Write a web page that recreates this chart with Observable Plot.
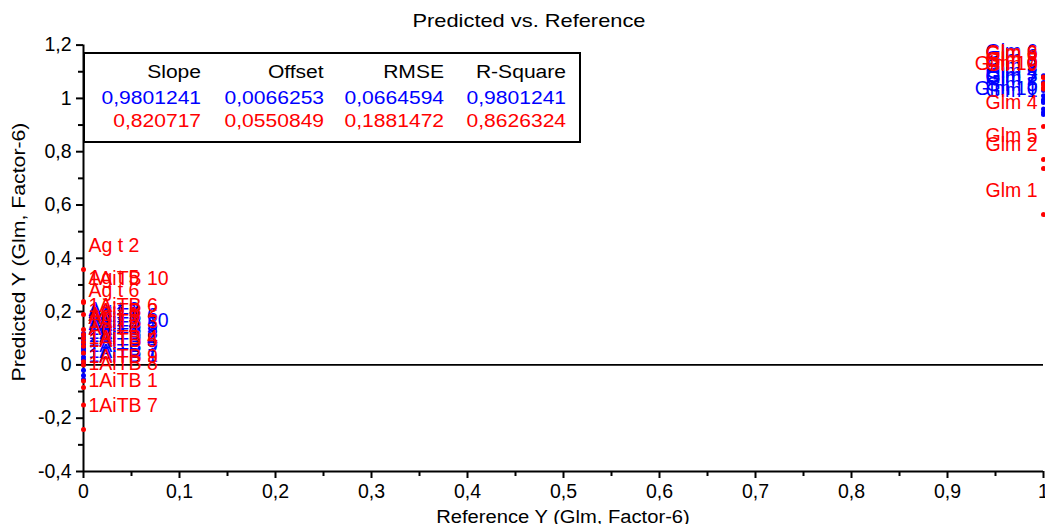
<!DOCTYPE html>
<html>
<head>
<meta charset="utf-8">
<script src="https://cdn.jsdelivr.net/npm/d3@7"></script>
<script src="https://cdn.jsdelivr.net/npm/@observablehq/plot@0.6"></script>
<style>
  html, body { margin: 0; padding: 0; background: #fff; overflow: hidden; }
  #wrap { position: relative; width: 1045px; height: 524px; font-family: Arial, "Liberation Sans", sans-serif; }
  #wrap svg { position: absolute; left: 0; top: 0; }
  .ov { position: absolute; white-space: nowrap; color: #000; }
  .cell { position: absolute; width: 300px; text-align: right; font-size: 18px; line-height: 18px; white-space: nowrap; }
  .cell span { display: inline-block; transform: scaleX(1.17); transform-origin: right center; }
</style>
</head>
<body>
<div id="wrap"></div>
<script>
// ---------- data ----------
const titleText = "Predicted vs. Reference";
const xTitle = "Reference Y (Glm, Factor-6)";
const yTitle = "Predicted Y (Glm, Factor-6)";

const xTicks = [0, 0.1, 0.2, 0.3, 0.4, 0.5, 0.6, 0.7, 0.8, 0.9, 1];
const xMinorTicks = [0.05, 0.15, 0.25, 0.35, 0.45, 0.55, 0.65, 0.75, 0.85, 0.95];
const yTicks = [-0.4, -0.2, 0, 0.2, 0.4, 0.6, 0.8, 1, 1.2];
const yMinorTicks = [-0.3, -0.1, 0.1, 0.3, 0.5, 0.7, 0.9, 1.1];

// calibration (blue)
const blueNames = ["1AiTB 1","1AiTB 2","1AiTB 3","1AiTB 4","1AiTB 5","1AiTB 6","1AiTB 7","1AiTB 8","1AiTB 9","1AiTB 10",
                   "Ag t 1","Ag t 2","Ag t 3","Ag t 4","Ag t 5","Ag t 6",
                   "Glm 1","Glm 2","Glm 3","Glm 4","Glm 5","Glm 6","Glm 7","Glm 8","Glm 9","Glm 10"];
const blueRef  = [0,0,0,0,0,0,0,0,0,0, 0,0,0,0,0,0, 1,1,1,1,1,1,1,1,1,1];
const bluePred = [-0.055, 0.02, 0.045, 0.005, 0.06, 0.095, -0.04, 0.03, -0.02, 0.077,
                  0.11, 0.118, 0.085, 0.065, 0.1, 0.05,
                  0.94, 0.985, 0.995, 1.01, 0.96, 1.085, 0.99, 1.06, 1.03, 0.948];

// validation (red)
const redNames = ["1AiTB 1","1AiTB 2","1AiTB 3","1AiTB 4","1AiTB 5","1AiTB 6","1AiTB 7","1AiTB 8","1AiTB 9","1AiTB 10",
                  "Ag t 1","Ag t 2","Ag t 3","Ag t 4","Ag t 5","Ag t 6",
                  "Glm 1","Glm 2","Glm 3","Glm 4","Glm 5","Glm 6","Glm 7","Glm 8","Glm 9","Glm 10"];
const redRef  = [0,0,0,0,0,0,0,0,0,0, 0,0,0,0,0,0, 1,1,1,1,1,1,1,1,1,1];
const redPred = [-0.15, 0.114, 0.07, 0.012, 0.0, 0.133, -0.242, -0.085, -0.06, 0.234,
                 0.1, 0.358, 0.085, 0.045, 0.238, 0.189,
                 0.564, 0.737, 1.055, 0.895, 0.771, 1.08, 1.05, 1.078, 1.035, 1.04];

// statistics box
const statHeaders = ["Slope", "Offset", "RMSE", "R-Square"];
const blueStats = ["0,9801241", "0,0066253", "0,0664594", "0,9801241"];
const redStats  = ["0,820717", "0,0550849", "0,1881472", "0,8626324"];

// ---------- build ----------
const blue = blueNames.map((name, i) => ({name, ref: blueRef[i], pred: bluePred[i]}));
const red  = redNames.map((name, i) => ({name, ref: redRef[i], pred: redPred[i]}));
const fmt = d => String(d).replace(".", ",");

const BLUE = "#0000ff", RED = "#ff0000";
const labelFont = 19.5;

const labelMarks = (data, color) => [
  Plot.text(data, {filter: d => d.ref < 0.5, x: "ref", y: "pred", text: "name", textAnchor: "start",
                   dx: 5, dy: -24, fill: color, fontSize: labelFont}),
  Plot.text(data, {filter: d => d.ref >= 0.5, x: "ref", y: "pred", text: "name", textAnchor: "end",
                   dx: -6, dy: -24, fill: color, fontSize: labelFont})
];

const chart = Plot.plot({
  width: 1045,
  height: 524,
  marginLeft: 83,
  marginRight: 2,
  marginTop: 44.6,
  marginBottom: 53,
  x: {domain: [0, 1], label: null},
  y: {domain: [-0.4, 1.2], label: null},
  style: {fontFamily: "Arial, 'Liberation Sans', sans-serif", fontSize: "19.5px", color: "#000", background: "transparent", overflow: "visible"},
  marks: [
    Plot.ruleY([0], {stroke: "#000", strokeWidth: 1.8}),
    Plot.axisX(xTicks, {tickSize: 7, tickPadding: 6, tickFormat: fmt, strokeWidth: 2, fontSize: 19.5, label: null}),
    Plot.axisX(xMinorTicks, {tickSize: 5, tickFormat: () => "", strokeWidth: 2, label: null}),
    Plot.axisY(yTicks, {tickSize: 7, tickPadding: 5, tickFormat: fmt, strokeWidth: 2, fontSize: 19.5, label: null}),
    Plot.axisY(yMinorTicks, {tickSize: 5, tickFormat: () => "", strokeWidth: 2, label: null}),
    Plot.ruleY([-0.4], {stroke: "#000", strokeWidth: 2}),
    Plot.ruleX([0], {stroke: "#000", strokeWidth: 2}),
    Plot.dot(blue, {x: "ref", y: "pred", r: 2.5, fill: BLUE}),
    Plot.dot(red, {x: "ref", y: "pred", r: 2.5, fill: RED}),
    ...labelMarks(blue, BLUE),
    ...labelMarks(red, RED)
  ]
});

const wrap = document.getElementById("wrap");
wrap.appendChild(chart);

// title
const t = document.createElement("div");
t.className = "ov";
t.textContent = titleText;
Object.assign(t.style, {left: "0px", width: "1058px", top: "12px", textAlign: "center",
  fontSize: "18.5px", lineHeight: "18.5px", transform: "scaleX(1.18)"});
wrap.appendChild(t);

// x-axis title
const xt = document.createElement("div");
xt.className = "ov";
xt.textContent = xTitle;
Object.assign(xt.style, {left: (563 - 200) + "px", width: "400px", top: (516.5 - 9) + "px", textAlign: "center",
  fontSize: "18px", lineHeight: "18px", transform: "scaleX(1.12)"});
wrap.appendChild(xt);

// y-axis title
const yt = document.createElement("div");
yt.className = "ov";
yt.textContent = yTitle;
Object.assign(yt.style, {left: (19 - 200) + "px", width: "400px", top: (252 - 9) + "px", textAlign: "center",
  fontSize: "18px", lineHeight: "18px", transform: "rotate(-90deg) scaleX(1.18)", transformOrigin: "50% 50%"});
wrap.appendChild(yt);

// statistics box
const box = document.createElement("div");
Object.assign(box.style, {position: "absolute", left: "83px", top: "52px", width: "498px", height: "91px",
  border: "2px solid #000", boxSizing: "border-box", background: "#fff"});
wrap.appendChild(box);
const colRight = [201, 324, 444, 566];
const rows = [
  {vals: statHeaders, color: "#000", baseline: 78},
  {vals: blueStats, color: BLUE, baseline: 104.5},
  {vals: redStats, color: RED, baseline: 127}
];
rows.forEach(row => {
  row.vals.forEach((v, j) => {
    const c = document.createElement("div");
    c.className = "cell";
    c.style.left = (colRight[j] - 300) + "px";
    c.style.top = (row.baseline - 15.2) + "px";
    c.style.color = row.color;
    const s = document.createElement("span");
    s.textContent = v;
    c.appendChild(s);
    wrap.appendChild(c);
  });
});
</script>
</body>
</html>
